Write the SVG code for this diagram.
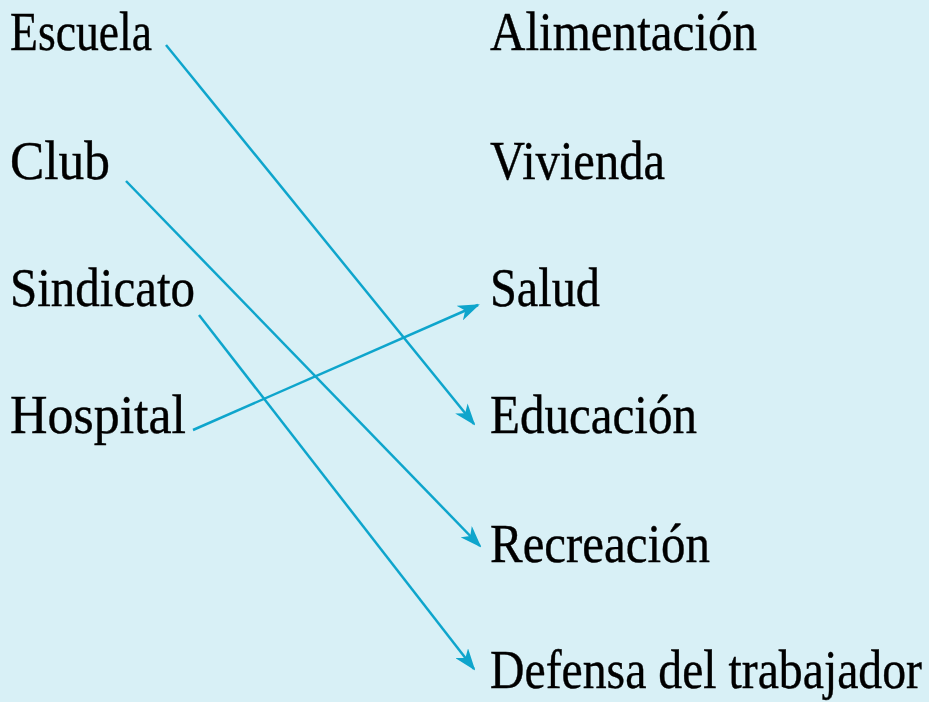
<svg xmlns="http://www.w3.org/2000/svg" width="929" height="702" viewBox="0 0 929 702">
<defs>
<style>
text{font-family:"Liberation Serif","Times New Roman",serif;font-size:54px;fill:#000;stroke:#000;stroke-width:0.4}
.c{stroke:#0ea5cc;stroke-width:2.5;fill:none}
</style>
<marker id="ah" viewBox="0 0 22 16" refX="20" refY="8" markerWidth="22" markerHeight="16" markerUnits="userSpaceOnUse" orient="auto">
<path d="M0,0 L22,8 L0,16 L6,8 Z" fill="#0ea5cc"/>
</marker>
</defs>
<rect width="929" height="702" fill="#d8f0f6"/>
<g id="escuela"><text x="10" y="50" textLength="142" lengthAdjust="spacingAndGlyphs">Escuela</text></g>
<g id="club"><text x="10" y="179" textLength="100" lengthAdjust="spacingAndGlyphs">Club</text></g>
<g id="sindicato"><text x="10" y="306" textLength="185" lengthAdjust="spacingAndGlyphs">Sindicato</text></g>
<g id="hospital"><text x="10" y="433" textLength="176" lengthAdjust="spacingAndGlyphs">Hospital</text></g>
<g id="alimentacion"><text x="490" y="50" textLength="267" lengthAdjust="spacingAndGlyphs">Alimentación</text></g>
<g id="vivienda"><text x="490" y="179" textLength="175" lengthAdjust="spacingAndGlyphs">Vivienda</text></g>
<g id="salud"><text x="490" y="306" textLength="110" lengthAdjust="spacingAndGlyphs">Salud</text></g>
<g id="educacion"><text x="490" y="433" textLength="207" lengthAdjust="spacingAndGlyphs">Educación</text></g>
<g id="recreacion"><text x="490" y="562" textLength="220" lengthAdjust="spacingAndGlyphs">Recreación</text></g>
<g id="defensa"><text x="490" y="688" font-size="52" textLength="432" lengthAdjust="spacingAndGlyphs">Defensa del trabajador</text></g>
<g id="connectors">
<line class="c" x1="166" y1="45" x2="474" y2="424" marker-end="url(#ah)"/>
<line class="c" x1="126" y1="181" x2="480" y2="546" marker-end="url(#ah)"/>
<line class="c" x1="199" y1="315" x2="474" y2="669" marker-end="url(#ah)"/>
<line class="c" x1="193" y1="430" x2="478" y2="305" marker-end="url(#ah)"/>
</g>
</svg>
